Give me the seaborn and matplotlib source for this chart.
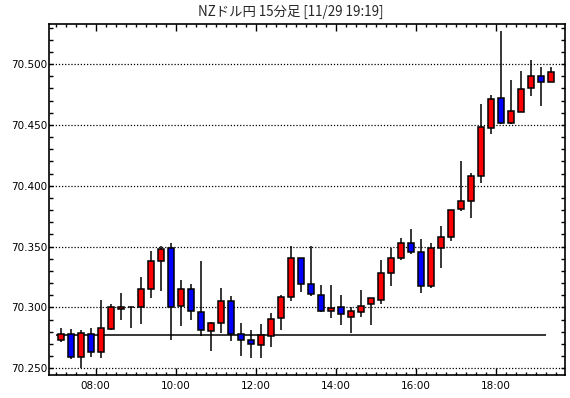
import numpy as np
import pandas as pd
import seaborn as sns
import matplotlib.pyplot as plt
from matplotlib.ticker import MultipleLocator, FixedLocator

# NZD/JPY 15 minute candles, 07:00 - 19:15
times = pd.date_range("2018-11-29 07:00", periods=50, freq="15min")
opens = [70.273, 70.278, 70.2595, 70.278, 70.263, 70.282, 70.299, 70.300, 70.300, 70.315,
         70.3385, 70.3485, 70.301, 70.315, 70.2965, 70.281, 70.287, 70.3055, 70.278, 70.273,
         70.2695, 70.2765, 70.291, 70.309, 70.341, 70.3195, 70.3105, 70.2975, 70.300, 70.2925,
         70.2965, 70.3025, 70.3065, 70.3287, 70.341, 70.353, 70.3456, 70.3178, 70.349, 70.358,
         70.381, 70.3875, 70.408, 70.4475, 70.472, 70.4515, 70.461, 70.480, 70.490, 70.485]
closes = [70.278, 70.2595, 70.2787, 70.263, 70.2828, 70.300, 70.300, 70.300, 70.3148, 70.3385,
          70.3484, 70.3008, 70.3148, 70.2967, 70.2811, 70.2869, 70.3057, 70.2779, 70.273, 70.2697,
          70.277, 70.2902, 70.309, 70.341, 70.3197, 70.3107, 70.2975, 70.2992, 70.2943, 70.2967,
          70.3016, 70.3082, 70.3287, 70.341, 70.353, 70.3456, 70.3178, 70.3489, 70.3579, 70.3801,
          70.3875, 70.4079, 70.4481, 70.4711, 70.4514, 70.4612, 70.4793, 70.4899, 70.4850, 70.4932]
highs = [70.2828, 70.2822, 70.2814, 70.2830, 70.306, 70.3027, 70.312, 70.300, 70.3251, 70.3461,
         70.3502, 70.353, 70.3224, 70.3191, 70.338, 70.288, 70.3156, 70.3093, 70.2869, 70.2814,
         70.2863, 70.2953, 70.3101, 70.3502, 70.341, 70.3502, 70.3183, 70.3183, 70.3101, 70.300,
         70.3142, 70.3082, 70.3393, 70.3492, 70.3574, 70.3648, 70.3566, 70.353, 70.3667, 70.3801,
         70.4205, 70.4104, 70.4675, 70.4746, 70.527, 70.4869, 70.4943, 70.5033, 70.4973, 70.4973]
lows = [70.2718, 70.2579, 70.250, 70.2595, 70.2587, 70.2816, 70.2896, 70.2833, 70.2863, 70.3079,
        70.3134, 70.2734, 70.2849, 70.2896, 70.2765, 70.2644, 70.2792, 70.2726, 70.2603, 70.2587,
        70.2587, 70.2677, 70.2816, 70.3054, 70.3128, 70.3095, 70.2964, 70.2915, 70.2857, 70.2792,
        70.2923, 70.2857, 70.3025, 70.3177, 70.3388, 70.3437, 70.312, 70.3161, 70.3325, 70.3543,
        70.3789, 70.3735, 70.4027, 70.4424, 70.4506, 70.4506, 70.4612, 70.474, 70.4658, 70.485]
ref_level = 70.277
title = "NZドル円 15分足 [11/29 19:19]"
tick_hours = [8, 10, 12, 14, 16, 18]
tick_labels = ["08:00", "10:00", "12:00", "14:00", "16:00", "18:00"]

df = pd.DataFrame({"time": times, "open": opens, "high": highs, "low": lows, "close": closes})
df["x"] = df["time"].dt.hour + df["time"].dt.minute / 60 + 0.125
df["up"] = df["close"] >= df["open"]

sns.set_style("ticks")
plt.rcParams['font.family'] = ['DejaVu Sans']

fig = plt.figure(figsize=(5.7, 3.98), dpi=100)
ax = fig.add_axes([49 / 570, 1 - 375 / 398, 516 / 570, 351 / 398])

# gridlines
for v in np.arange(70.25, 70.501, 0.05):
    ax.axhline(v, color="black", lw=0.9, ls=(0, (1, 1.5)), zorder=1)

# reference line
ax.hlines(ref_level, 7.0, 19.25, color="black", lw=1.1, zorder=2)

# wicks
ax.vlines(df["x"], df["low"], df["high"], color="black", lw=1.1, zorder=3)

# bodies
body_bottom = df[["open", "close"]].min(axis=1)
body_h = (df["close"] - df["open"]).abs().clip(lower=0.0002)
colors = np.where(df["up"], "#ff0000", "#0000ff")
ax.bar(df["x"], body_h, bottom=body_bottom, width=0.15, color=colors,
       edgecolor="black", linewidth=1.1, zorder=4)

ax.set_xlim(6.8325, 19.733)
ax.set_ylim(70.2445, 70.533)

ax.xaxis.set_major_locator(FixedLocator(tick_hours))
ax.set_xticklabels(tick_labels)
ax.xaxis.set_minor_locator(MultipleLocator(0.25))
ax.yaxis.set_major_locator(MultipleLocator(0.05))
ax.yaxis.set_minor_locator(MultipleLocator(0.01))
ax.yaxis.set_major_formatter(plt.FormatStrFormatter("%.3f"))

ax.tick_params(axis="both", which="both", direction="in", top=True, right=True,
               colors="black", labelsize=7.5)
ax.tick_params(axis="x", which="major", length=5, width=1, pad=4)
ax.tick_params(axis="x", which="minor", length=2.5, width=1)
ax.tick_params(axis="y", which="major", length=3, width=1, pad=1)
ax.tick_params(axis="y", which="minor", length=3, width=1)
for s in ax.spines.values():
    s.set_linewidth(1.2)
    s.set_color("black")

fig.text(0.51, 1 - 12 / 398, title, ha="center", va="center", fontsize=9.6,
         family=["Noto Sans CJK JP", "DejaVu Sans"])

fig.savefig("out.png", dpi=100)
